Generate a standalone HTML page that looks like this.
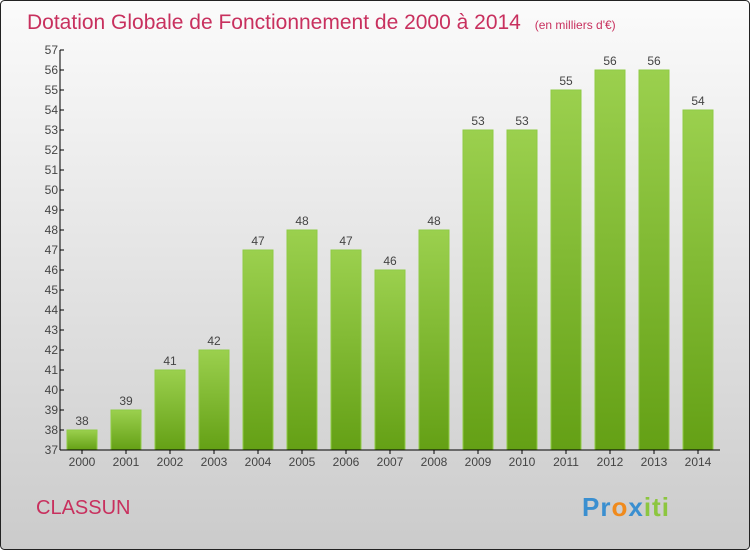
<!DOCTYPE html>
<html><head><meta charset="utf-8"><style>
html,body{margin:0;padding:0;}
body{width:750px;height:550px;overflow:hidden;font-family:"Liberation Sans",sans-serif;}
</style></head><body>
<svg id="chart" width="750" height="550" xmlns="http://www.w3.org/2000/svg">
<defs>
<linearGradient id="bg" x1="0" y1="0" x2="0" y2="1"><stop offset="0" stop-color="#fbfbfb"/><stop offset="1" stop-color="#cbcbcb"/></linearGradient>
<linearGradient id="bar" x1="0" y1="0" x2="0" y2="1"><stop offset="0" stop-color="#9bd04e"/><stop offset="1" stop-color="#64a015"/></linearGradient>
</defs>
<rect x="0.5" y="0.5" width="749" height="549" rx="4" fill="url(#bg)" stroke="#222"/>
<text x="27" y="29" font-size="21" fill="#c8305e">Dotation Globale de Fonctionnement de 2000 à 2014 <tspan font-size="12" dx="8">(en milliers d'€)</tspan></text>
<text x="36" y="514" font-size="20" fill="#c8305e">CLASSUN</text>
<text x="582" y="516" font-size="26" font-weight="bold" letter-spacing="1"><tspan fill="#3a8fd0">Pr</tspan><tspan fill="#f08a1c">o</tspan><tspan fill="#3a8fd0">x</tspan><tspan fill="#8cc63f">iti</tspan></text>
<g id="plot"></g>
</svg>
<script>
const years=["2000","2001","2002","2003","2004","2005","2006","2007","2008","2009","2010","2011","2012","2013","2014"];
const values=[38,39,41,42,47,48,47,46,48,53,53,55,56,56,54];
const yTicks=[37,38,39,40,41,42,43,44,45,46,47,48,49,50,51,52,53,54,55,56,57];
const NS="http://www.w3.org/2000/svg";
const plotG=document.getElementById('plot');
const yMin=37,yMax=57,plotTop=50,plotBot=450,axisX=60;
const yS=v=>plotBot-(v-yMin)/(yMax-yMin)*(plotBot-plotTop);
const xc=i=>82+i*44;
function mk(t,a,txt){const e=document.createElementNS(NS,t);for(const k in a)e.setAttribute(k,a[k]);if(txt!=null)e.textContent=txt;plotG.appendChild(e);return e;}
years.forEach((yr,i)=>{
 const b=mk('rect',{x:xc(i)-15,y:yS(values[i]),width:30,height:plotBot-yS(values[i]),fill:'url(#bar)',stroke:'#8fcb45','stroke-width':1});
 
 
 const l=mk('text',{x:xc(i),y:yS(values[i])-5,'text-anchor':'middle','font-size':12,fill:'#444'},values[i]);
 
 
 const t=mk('text',{x:xc(i),y:466,'text-anchor':'middle','font-size':12,fill:'#444'},yr);
 
 
 mk('line',{x1:xc(i),x2:xc(i),y1:plotBot,y2:plotBot+4,stroke:'#000'});
});
yTicks.forEach(v=>{
 mk('line',{x1:axisX,x2:axisX+4,y1:yS(v),y2:yS(v),stroke:'#000'});
 const t=mk('text',{x:axisX-2,y:yS(v)+4,'text-anchor':'end','font-size':12,fill:'#444'},v);
 
 
});
const ya=mk('line',{x1:axisX,x2:axisX,y1:plotTop,y2:plotBot,stroke:'#000'});


const xa=mk('line',{x1:axisX,x2:720,y1:plotBot,y2:plotBot,stroke:'#000'});


</script>
</body></html>
